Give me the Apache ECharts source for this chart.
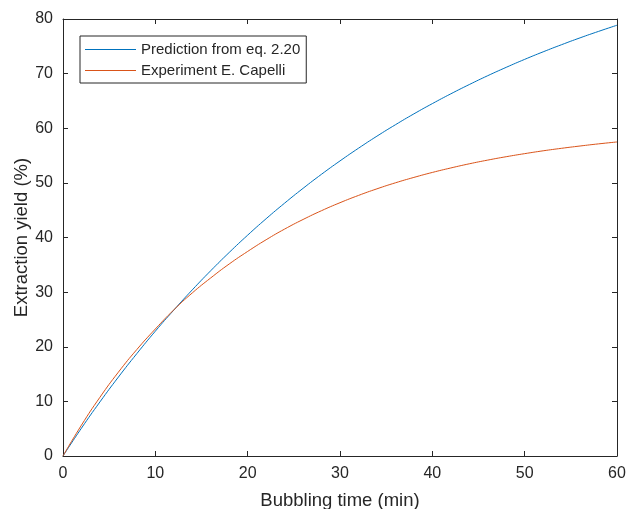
<!DOCTYPE html>
<html><head><meta charset="utf-8">
<script src="https://cdn.jsdelivr.net/npm/echarts@6/dist/echarts.min.js"></script>
<style>html,body{margin:0;padding:0;background:#fff}#c{width:628px;height:509px}</style>
</head><body><div id="c"></div>
<script>
var times = [0,2,4,6,8,10,12,14,16,18,20,22,24,26,28,30,32,34,36,38,40,42,44,46,48,50,52,54,56,58,60];
var prediction = [0,5.1,9.9,14.45,18.75,22.85,26.71,30.41,33.92,37.26,40.43,43.44,46.29,49.00,51.58,54.02,56.34,58.55,60.64,62.63,64.51,66.30,68.00,69.62,71.15,72.61,73.99,75.30,76.55,77.73,78.86];
var experiment = [0,5.65,10.75,15.35,19.5,23.25,26.75,29.85,32.6,35.15,37.45,39.59,41.54,43.30,44.91,46.37,47.70,48.91,50.01,51.00,51.91,52.73,53.49,54.17,54.79,55.35,55.87,56.33,56.75,57.14,57.49];
var seriesNames = ['Prediction from eq. 2.20', 'Experiment E. Capelli'];

var font = 'Liberation Sans, Arial, Helvetica, sans-serif';
var axisCol = '#262626';
function pairs(ys){ return times.map(function(t,i){ return [t, ys[i]]; }); }
var chart = echarts.init(document.getElementById('c'), null, {renderer:'canvas'});
var hidden = {show:false};
chart.setOption({
  animation:false,
  backgroundColor:'#fff',
  grid:{left:63, top:19, right:11, bottom:53, containLabel:false, outerBoundsMode:'none'},
  legend:{
    orient:'vertical', left:80, top:36,
    data:seriesNames,
    icon:'rect',
    itemWidth:51, itemHeight:1, itemGap:6,
    padding:[6,6,5,5],
    borderColor:'#262626', borderWidth:1, backgroundColor:'#fff',
    textStyle:{fontFamily:font, fontSize:15, color:'#262626'}
  },
  xAxis:[{
    type:'value', min:0, max:60, interval:10,
    name:'Bubbling time (min)', nameLocation:'middle', nameGap:35, nameMoveOverlap:false,
    nameTextStyle:{fontFamily:font, fontSize:18.5, color:axisCol},
    axisLine:{onZero:false, lineStyle:{color:axisCol, width:1}},
    axisTick:{inside:true, length:5, lineStyle:{color:axisCol}},
    axisLabel:{fontFamily:font, fontSize:16, color:axisCol, margin:10},
    splitLine:hidden
  },{
    type:'value', min:0, max:60, interval:10, position:'top',
    axisLine:{show:true, onZero:false, lineStyle:{color:axisCol, width:1}},
    axisTick:{show:true, inside:true, length:5, lineStyle:{color:axisCol}},
    axisLabel:hidden, splitLine:hidden
  }],
  yAxis:[{
    type:'value', min:0, max:80, interval:10,
    name:'Extraction yield (%)', nameLocation:'middle', nameGap:32, nameMoveOverlap:false,
    nameTextStyle:{fontFamily:font, fontSize:18.5, color:axisCol},
    axisLine:{show:true, onZero:false, lineStyle:{color:axisCol, width:1}},
    axisTick:{show:true, inside:true, length:5, lineStyle:{color:axisCol}},
    axisLabel:{fontFamily:font, fontSize:16, color:axisCol, margin:10},
    splitLine:hidden
  },{
    type:'value', min:0, max:80, interval:10, position:'right',
    axisLine:{show:true, onZero:false, lineStyle:{color:axisCol, width:1}},
    axisTick:{show:true, inside:true, length:5, lineStyle:{color:axisCol}},
    axisLabel:hidden, splitLine:hidden
  }],
  series:[{
    name:seriesNames[0], type:'line', smooth:true, showSymbol:false, symbol:'none',
    xAxisIndex:0, yAxisIndex:0,
    data:pairs(prediction), lineStyle:{color:'#0072BD', width:1}, itemStyle:{color:'#0072BD'}
  },{
    name:seriesNames[1], type:'line', smooth:true, showSymbol:false, symbol:'none',
    xAxisIndex:0, yAxisIndex:0,
    data:pairs(experiment), lineStyle:{color:'#D95319', width:1}, itemStyle:{color:'#D95319'}
  }]
});
</script></body></html>
